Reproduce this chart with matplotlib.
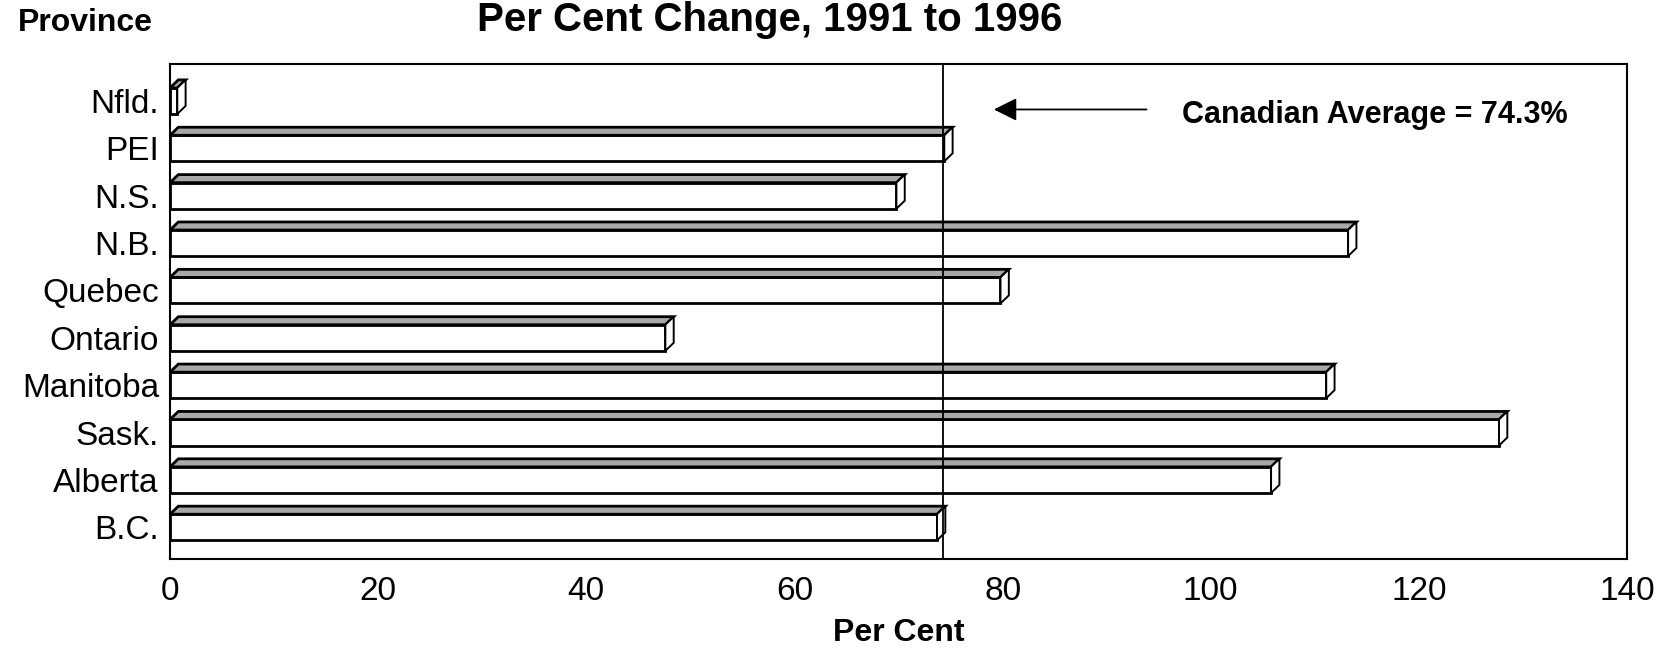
# Gráfico de barras horizontales con efecto 3D (cambio porcentual por provincia)
import numpy as np
import matplotlib.pyplot as plt
from matplotlib.patches import Polygon

plt.rcParams['font.family'] = ['Liberation Sans', 'DejaVu Sans']

# Datos
provincias = ['B.C.', 'Alberta', 'Sask.', 'Manitoba', 'Ontario', 'Quebec', 'N.B.', 'N.S.', 'PEI', 'Nfld.']
cambio = [73.7, 105.8, 127.7, 111.1, 47.6, 79.8, 113.2, 69.8, 74.4, 0.7]
media_canada = 74.3
xticks = [0, 20, 40, 60, 80, 100, 120, 140]

fig = plt.figure(figsize=(16.64, 6.49), dpi=100)
ax = fig.add_axes([170/1664, 1-559/649, (1627-170)/1664, (559-64)/649])

y = np.arange(len(provincias))
h = 0.55
dx = 0.8
dy = 0.17

# Cara frontal
ax.barh(y, cambio, height=h, color='white', edgecolor='black', linewidth=2.0, zorder=3)

# Caras superior y lateral
for yi, v in zip(y, cambio):
    arriba = yi + h/2
    abajo = yi - h/2
    techo = Polygon([(0, arriba), (v, arriba), (v+dx, arriba+dy), (dx, arriba+dy)],
                    closed=True, facecolor='#a8a8a8', edgecolor='black', linewidth=2.0, zorder=3)
    lado = Polygon([(v, abajo), (v+dx, abajo+dy), (v+dx, arriba+dy), (v, arriba)],
                   closed=True, facecolor='white', edgecolor='black', linewidth=1.4, zorder=3)
    ax.add_patch(techo)
    ax.add_patch(lado)

# Línea de la media canadiense
ax.axvline(media_canada, color='black', linewidth=1.3, zorder=4)
ax.annotate('', xy=(78.9, 8.82), xytext=(94.1, 8.82),
            arrowprops=dict(arrowstyle='-|>', color='black', lw=1.3, mutation_scale=35))
ax.text(97.2, 8.71, 'Canadian Average = 74.3%', fontsize=22, fontweight='bold', va='center')

ax.set_xlim(0, 140)
ax.set_ylim(-0.67, 9.78)
ax.set_xticks(xticks)
ax.set_yticks(y)
ax.set_yticklabels(provincias)
ax.tick_params(length=0, labelsize=24, pad=8)
ax.tick_params(axis='x', pad=12)
for s in ax.spines.values():
    s.set_linewidth(1.5)

ax.set_xlabel('Per Cent', fontsize=23, fontweight='bold', labelpad=8)
fig.text(85/1664, 1-23/649, 'Province', fontsize=23, fontweight='bold', ha='center', va='center')
fig.text(770/1664, 0.999, 'Per Cent Change, 1991 to 1996', fontsize=29, fontweight='bold',
         ha='center', va='top')

plt.savefig('out.png')
